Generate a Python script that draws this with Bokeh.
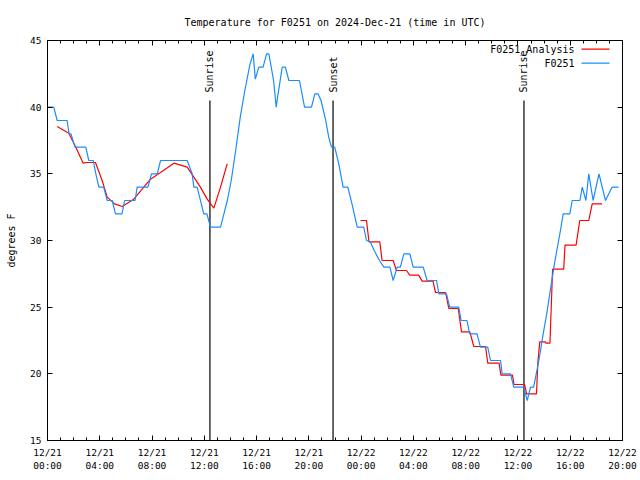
import math
from bokeh.plotting import figure
from bokeh.models import Range1d, FixedTicker, LinearAxis, Label, BoxAnnotation
from bokeh.core.properties import value
from bokeh.embed import file_html
from bokeh.resources import INLINE

NAN = float("nan")

# Hours since 2024-12-21 00:00 UTC
obs_hours = [0.0, 0.48, 0.74, 1.5, 1.65, 1.8, 2.1, 2.93, 3.16, 3.5, 3.7, 3.93, 4.3, 4.57, 4.95,
             5.2, 5.7, 5.9, 6.7, 6.86, 7.68, 7.96, 8.4, 8.65, 10.69, 11.07, 11.2, 11.45, 11.96,
             12.2, 12.47, 13.24, 13.5, 13.76, 14.06, 14.4, 14.75, 15.1, 15.5, 15.74, 15.9,
             16.17, 16.5, 16.76, 16.94, 17.3, 17.5, 17.6, 17.96, 18.2, 18.47, 19.28, 19.67,
             20.2, 20.46, 20.7, 20.93, 21.27, 21.52, 21.73, 21.98, 22.29, 22.62, 22.98, 23.3,
             23.7, 24.2, 24.41, 24.7, 25.0, 25.4, 25.74, 26.2, 26.45, 26.76, 27.0, 27.27,
             27.73, 27.98, 28.75, 29.05, 29.77, 29.95, 30.53, 30.78, 31.47, 31.65, 32.1, 32.3,
             32.87, 33.13, 33.69, 33.9, 34.67, 34.79, 35.43, 35.68, 36.45, 36.6, 36.71, 36.96,
             37.2, 37.4, 37.6, 37.93, 38.2, 38.45, 38.8, 39.25, 39.46, 39.97, 40.15, 40.74,
             40.92, 41.2, 41.42, 41.75, 42.2, 42.7, 43.2, 43.7]
obs_temps = [40, 40, 39, 39, 38, 38, 37, 37, 36, 36, 35, 34, 34, 33, 33,
             32, 32, 33, 33, 34, 34, 35, 35, 36, 36, 35, 34, 34, 32,
             32, 31, 31, 32, 33, 34.5, 36.75, 39.25, 41.25, 43.25, 44, 42.1,
             43, 43, 44, 44, 42, 40, 40.7, 43, 43, 42, 42, 40,
             40, 41, 41, 40.5, 39.1, 37.75, 37, 37, 35.75, 34, 34, 32.75,
             31, 31, 30, 29.9, 29.25, 28.5, 28, 28, 27, 28, 28, 29,
             29, 28, 28, 27, 27, 26, 26, 25, 25, 24, 24, 23,
             23, 22, 22, 21, 21, 20, 20, 19, 19, 18.4, 18, 19,
             19, 20, 21, 23, 24.5, 26.1, 28.3, 30.75, 32, 32, 33, 33,
             34, 33, 35, 33, 35, 33, 34, 34]

ana_hours = [0.74, 1.63, 2.14, 2.73, 3.0, 3.67, 4.18, 4.57, 5.13, 5.71, 6.6, 7.37, 7.88, 8.65,
             9.67, 10.69, 11.2, 11.7, 12.22, 12.73, 13.24, 13.75, 18.0,
             23.95, 24.41, 24.6, 25.43, 25.6, 26.45, 26.7, 27.47, 27.72, 28.4, 28.67, 29.5,
             29.69, 30.46, 30.71, 31.43, 31.68, 32.32, 32.62, 33.52, 33.69, 34.56, 34.69, 35.58,
             35.7, 36.5, 36.6, 36.65, 37.42, 37.52, 37.67, 38.1, 38.15, 38.45, 38.65, 39.5,
             39.6, 40.45, 40.73, 41.42, 41.68, 42.44]
ana_temps = [38.55, 38.05, 37.05, 35.8, 35.85, 35.85, 34.5, 33.25, 32.75, 32.55, 33.1, 34, 34.6, 35.1,
             35.8, 35.5, 34.75, 34, 33.1, 32.43, 34, 35.75, NAN,
             31.5, 31.5, 29.9, 29.9, 28.5, 28.5, 27.75, 27.75, 27.4, 27.4, 26.95, 26.95,
             26.1, 26.1, 24.9, 24.9, 23.15, 23.15, 22.05, 22.05, 20.8, 20.8, 19.9, 19.9,
             19.2, 19.2, 18.8, 18.5, 18.5, 20.8, 22.4, 22.4, 22.3, 22.3, 27.85, 27.85,
             29.65, 29.65, 31.5, 31.5, 32.75, 32.75]

sun_hours = [12.43, 21.85, 36.46]
sun_labels = ["Sunrise", "Sunset", "Sunrise"]

series_names = ["F0251_Analysis", "F0251"]
series_colors = ["#ff0000", "#1a8cff"]

major_ticks = [0, 4, 8, 12, 16, 20, 24, 28, 32, 36, 40, 44]
tick_labels = ["12/21\n00:00", "12/21\n04:00", "12/21\n08:00", "12/21\n12:00", "12/21\n16:00",
               "12/21\n20:00", "12/22\n00:00", "12/22\n04:00", "12/22\n08:00", "12/22\n12:00",
               "12/22\n16:00", "12/22\n20:00"]
minor_ticks = list(range(0, 45))
y_ticks = [15, 20, 25, 30, 35, 40, 45]

FONT = "DejaVu Sans Mono"
SUN_TOP = 40.5
SUN_LABEL_Y = 41.1

p = figure(width=640, height=480, output_backend="svg", toolbar_location=None,
           x_range=Range1d(0, 44), y_range=Range1d(15, 45),
           min_border_left=47, min_border_right=18, min_border_top=40, min_border_bottom=40,
           title="Temperature for F0251 on 2024-Dec-21 (time in UTC)")
p.title.align = "center"
p.title.text_font = FONT
p.title.text_font_size = "10px"
p.title.text_font_style = "normal"
p.title.text_color = "black"
p.title.standoff = 25

p.xgrid.visible = False
p.ygrid.visible = False
p.outline_line_color = "black"
p.background_fill_color = "white"
p.border_fill_color = "white"

xt = FixedTicker(ticks=major_ticks, minor_ticks=minor_ticks)
yt = FixedTicker(ticks=y_ticks)

xa = p.xaxis[0]
xa.ticker = xt
xa.major_label_overrides = {t: l for t, l in zip(major_ticks, tick_labels)}
ya = p.yaxis[0]
ya.ticker = yt
ya.axis_label = "degrees F"

for ax in (xa, ya):
    ax.major_tick_in = 5
    ax.major_tick_out = 0
    ax.minor_tick_in = 3
    ax.minor_tick_out = 0
    ax.major_label_text_font = FONT
    ax.major_label_text_font_size = "9.5px"
    ax.major_label_text_color = "black"
    ax.major_label_standoff = 6
    ax.axis_label_text_font = FONT
    ax.axis_label_text_font_size = "10px"
    ax.axis_label_text_font_style = "normal"
    ax.axis_label_text_color = "black"
    ax.axis_label_standoff = 10
    ax.axis_line_color = "black"
    ax.major_tick_line_color = "black"
    ax.minor_tick_line_color = "black"
ya.minor_tick_line_color = None

top = LinearAxis(ticker=xt, major_label_text_color=None, major_label_text_font_size="9px",
                 major_tick_in=5, major_tick_out=0, minor_tick_in=3, minor_tick_out=0,
                 major_label_standoff=0, axis_line_color="black")
right = LinearAxis(ticker=yt, major_label_text_color=None, major_label_text_font_size="9px",
                   major_tick_in=5, major_tick_out=0, minor_tick_line_color=None,
                   major_label_standoff=0, axis_line_color="black")
p.add_layout(top, "above")
p.add_layout(right, "right")

p.segment(x0=sun_hours, y0=[15] * len(sun_hours), x1=sun_hours, y1=[SUN_TOP] * len(sun_hours),
          line_color="black", line_width=1.2)
p.text(x=sun_hours, y=[SUN_LABEL_Y] * len(sun_hours), text=sun_labels, angle=math.pi / 2,
       text_align="left", text_baseline="middle", text_font=value(FONT),
       text_font_size="10px", text_color="black")

p.line(ana_hours, ana_temps, line_color=series_colors[0], line_width=1.2)
p.line(obs_hours, obs_temps, line_color=series_colors[1], line_width=1.2)

# gnuplot-style key: right-aligned text followed by a line sample (screen units, frame-relative)
KEY_TEXT_RIGHT = 527
KEY_LINE_LEFT = 534
KEY_LINE_RIGHT = 562
KEY_ROW0 = 391
KEY_ROW_STEP = 14
for i, (name, col) in enumerate(zip(series_names, series_colors)):
    yy = KEY_ROW0 - i * KEY_ROW_STEP
    p.add_layout(Label(x=KEY_TEXT_RIGHT, y=yy, x_units="screen", y_units="screen", text=name,
                       text_align="right", text_baseline="middle", text_font=FONT,
                       text_font_size="10px", text_color="black"))
    p.add_layout(BoxAnnotation(left=KEY_LINE_LEFT, right=KEY_LINE_RIGHT, top=yy + 1,
                               bottom=yy - 0.2, left_units="screen", right_units="screen",
                               top_units="screen", bottom_units="screen", fill_color=col,
                               fill_alpha=1, line_color=None))

open("out.html", "w").write(file_html(p, INLINE))
